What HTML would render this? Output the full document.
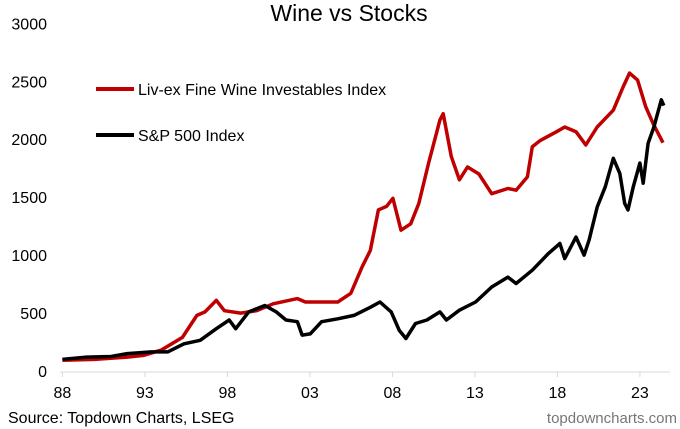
<!DOCTYPE html>
<html><head><meta charset="utf-8"><style>
html,body{margin:0;padding:0;background:#fff}
svg{display:block;font-family:"Liberation Sans",Arial,sans-serif}
</style></head><body>
<svg id="chart" width="680" height="429" viewBox="0 0 680 429">
<text x="349" y="21" font-size="23" text-anchor="middle" fill="#000">Wine vs Stocks</text>
<g id="yaxis"></g>
<g id="xaxis"></g>
<g id="series"></g>
<g>
<line x1="96" y1="89" x2="134" y2="89" stroke="#c00000" stroke-width="4"/>
<text x="138" y="95" font-size="16" fill="#000">Liv-ex Fine Wine Investables Index</text>
<line x1="96" y1="135" x2="134" y2="135" stroke="#000" stroke-width="4"/>
<text x="138" y="141" font-size="16" fill="#000">S&amp;P 500 Index</text>
</g>
<text x="8" y="423" font-size="16" fill="#000">Source: Topdown Charts, LSEG</text>
<text x="677" y="423" font-size="15" fill="#777" text-anchor="end">topdowncharts.com</text>
</svg>
<script>
const yTicks = [0, 500, 1000, 1500, 2000, 2500, 3000];
const xTickYears = [1988, 1993, 1998, 2003, 2008, 2013, 2018, 2023];
const xTickLabels = ["88", "93", "98", "03", "08", "13", "18", "23"];
const wineYears = [1988,1989.96,1991.93,1992.91,1993.99,1995.27,1996.15,1996.64,1997.33,1997.82,1998.8,1999.78,2000.77,2002.24,2002.73,2003.71,2004.69,2005.48,2006.17,2006.66,2007.15,2007.64,2008.03,2008.52,2009.11,2009.6,2010.19,2010.88,2011.08,2011.57,2012.06,2012.55,2013.24,2014.02,2015.0,2015.5,2016.18,2016.48,2016.97,2017.95,2018.44,2019.13,2019.72,2020.41,2021.39,2021.98,2022.37,2022.86,2023.35,2023.8,2024.4];
const wineValues = [92,100,120,135,180,290,480,510,610,520,500,520,580,625,595,595,595,670,900,1040,1390,1420,1490,1215,1270,1445,1790,2165,2220,1850,1650,1760,1700,1530,1575,1560,1675,1935,1990,2065,2105,2065,1950,2105,2250,2450,2570,2510,2280,2135,1970];
const spYears = [1988,1989.47,1990.95,1991.93,1993.4,1994.38,1995.37,1996.35,1997.33,1998.11,1998.5,1999.29,2000.27,2000.96,2001.55,2002.24,2002.53,2003.02,2003.71,2004.69,2005.67,2006.66,2007.25,2007.93,2008.42,2008.82,2009.4,2010.09,2010.88,2011.27,2012.06,2013.04,2014.02,2015.0,2015.5,2016.48,2017.46,2018.15,2018.44,2019.13,2019.62,2019.92,2020.41,2020.9,2021.39,2021.78,2022.08,2022.28,2022.6,2023.0,2023.2,2023.5,2023.85,2024.3,2024.45];
const spValues = [100,120,125,150,165,165,235,265,365,440,365,510,565,510,440,425,310,320,425,450,480,550,595,510,350,280,410,440,510,440,525,595,725,810,755,870,1015,1100,970,1155,1000,1130,1415,1590,1835,1705,1445,1390,1590,1795,1620,1965,2105,2340,2290];

const NS = "http://www.w3.org/2000/svg";
function xScale(yr){ return 62.4 + (yr - 1988) * 16.5; }
function yScale(v){ return 371 - v * 0.1159; }

const yaxis = document.getElementById('yaxis');
yTicks.forEach(function(t){
  const tx = document.createElementNS(NS, 'text');
  tx.setAttribute('x', 47); tx.setAttribute('y', yScale(t) + 6);
  tx.setAttribute('text-anchor', 'end'); tx.setAttribute('font-size', '16');
  tx.textContent = t;
  
  
  yaxis.appendChild(tx);
});
const xaxis = document.getElementById('xaxis');
const axl = document.createElementNS(NS, 'line');
axl.setAttribute('x1', 60); axl.setAttribute('x2', 670);
axl.setAttribute('y1', 372); axl.setAttribute('y2', 372);
axl.setAttribute('stroke', '#d9d9d9'); axl.setAttribute('stroke-width', '1');


xaxis.appendChild(axl);
xTickYears.forEach(function(yr, i){
  const tk = document.createElementNS(NS, 'line');
  tk.setAttribute('x1', xScale(yr)); tk.setAttribute('x2', xScale(yr));
  tk.setAttribute('y1', 372); tk.setAttribute('y2', 377);
  tk.setAttribute('stroke', '#d9d9d9');
  
  
  xaxis.appendChild(tk);
  const tx = document.createElementNS(NS, 'text');
  tx.setAttribute('x', xScale(yr)); tx.setAttribute('y', 398);
  tx.setAttribute('text-anchor', 'middle'); tx.setAttribute('font-size', '16');
  tx.textContent = xTickLabels[i];
  
  
  xaxis.appendChild(tx);
});
function drawLine(xs, vs, color, name){
  const p = document.createElementNS(NS, 'polyline');
  p.setAttribute('points', xs.map(function(x, i){ return xScale(x).toFixed(1) + ',' + yScale(vs[i]).toFixed(1); }).join(' '));
  p.setAttribute('fill', 'none'); p.setAttribute('stroke', color);
  p.setAttribute('stroke-width', '3.5'); p.setAttribute('stroke-linejoin', 'round');
  
  
  document.getElementById('series').appendChild(p);
}
drawLine(wineYears, wineValues, '#c00000', 'wine-index-line');
drawLine(spYears, spValues, '#000000', 'sp500-index-line');
</script>
</body></html>
